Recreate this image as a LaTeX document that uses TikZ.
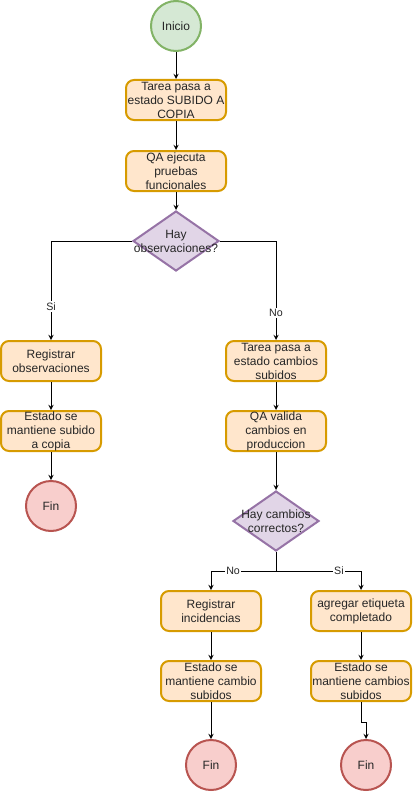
\documentclass[tikz,border=0pt]{standalone}
\usepackage{fontspec}
\setmainfont{Liberation Sans}
\usetikzlibrary{shapes.geometric,arrows}
\definecolor{taskfill}{HTML}{FFE6CC}
\definecolor{taskline}{HTML}{D79B00}
\definecolor{startfill}{HTML}{D5E8D4}
\definecolor{startline}{HTML}{82B366}
\definecolor{endfill}{HTML}{F8CECC}
\definecolor{endline}{HTML}{B85450}
\definecolor{askfill}{HTML}{E1D5E7}
\definecolor{askline}{HTML}{9673A6}
\begin{document}
\begin{tikzpicture}[x=0.75pt,y=-0.75pt,>=stealth,
  every node/.style={font=\fontsize{9}{10.5}\selectfont,text=black!85},
  task/.style={draw=taskline,fill=taskfill,line width=1.5pt,rounded corners=6pt,align=center,minimum width=75pt,minimum height=30pt,inner sep=0pt},
  startnode/.style={draw=startline,fill=startfill,line width=1.5pt,circle,minimum size=37.5pt,inner sep=0pt},
  endnode/.style={draw=endline,fill=endfill,line width=1.5pt,circle,minimum size=37.5pt,inner sep=0pt},
  ask/.style={draw=askline,fill=askfill,line width=1.5pt,diamond,minimum width=64.5pt,minimum height=45pt,inner sep=0pt},
  flow/.style={->,line width=0.75pt},
  tag/.style={fill=white,inner sep=1pt,font=\fontsize{8}{9}\selectfont}]
\useasboundingbox (0,0) rectangle (412,792);

\node[startnode] (inicio) at (176,26) {Inicio};
\node[task] (subido) at (176,100) {Tarea pasa a\\estado SUBIDO A\\COPIA};
\node[task] (pruebas) at (176,171) {QA ejecuta\\pruebas\\funcionales};
\node[ask,label={[align=center]center:Hay\\observaciones?}] (obs) at (176,241) {};
\draw[flow] (inicio) -- (subido);
\draw[flow] (subido) -- (pruebas);
\draw[flow] (pruebas) -- (obs);

% rama Si
\node[task] (regobs) at (51,361) {Registrar\\observaciones};
\node[task] (mantcopia) at (51,431) {Estado se\\mantiene subido\\a copia};
\node[endnode] (fin1) at (51,506) {Fin};
\draw[flow] (obs.west) -| node[tag,pos=0.83] {Si} (regobs.north);
\draw[flow] (regobs) -- (mantcopia);
\draw[flow] (mantcopia) -- (fin1);

% rama No
\node[task] (cambios) at (276,361) {Tarea pasa a\\estado cambios\\subidos};
\node[task] (valida) at (276,431) {QA valida\\cambios en\\produccion};
\node[ask,label={[align=center]center:Hay cambios\\correctos?}] (correctos) at (276,521) {};
\draw[flow] (obs.east) -| node[tag,pos=0.865] {No} (cambios.north);
\draw[flow] (cambios) -- (valida);
\draw[flow] (valida) -- (correctos);

\coordinate (split) at (276,571);
\node[task] (incid) at (211,611) {Registrar\\incidencias};
\node[task] (etiqueta) at (361,611) {agregar etiqueta\\completado};
\node[task] (mantcambio) at (211,681) {Estado se\\mantiene cambio\\subidos};
\node[task] (mantcambios) at (361,681) {Estado se\\mantiene cambios\\subidos};
\node[endnode] (fin2) at (211,765) {Fin};
\node[endnode] (fin3) at (366,765) {Fin};
\draw[line width=0.75pt] (correctos.south) -- (split);
\draw[flow] (split) -| node[tag,pos=0.33] {No} (incid.north);
\draw[flow] (split) -| node[tag,pos=0.37] {Si} (etiqueta.north);
\draw[flow] (incid) -- (mantcambio);
\draw[flow] (etiqueta) -- (mantcambios);
\draw[flow] (mantcambio) -- (fin2);
\coordinate (bend) at (361,722);
\draw[flow] (mantcambios.south) -- (bend) -| (fin3.north);
\end{tikzpicture}
\end{document}
